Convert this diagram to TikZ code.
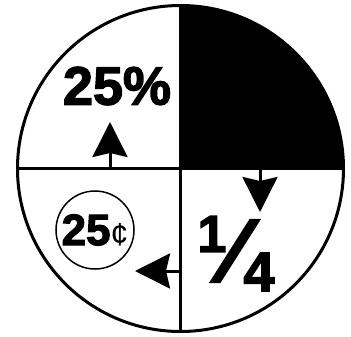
\documentclass[tikz,border=0pt]{standalone}
\usepackage{fontspec}
\setmainfont{Liberation Sans}[BoldFeatures={FakeBold=2.5}]
\usetikzlibrary{arrows.meta,calc}
\begin{document}
\begin{tikzpicture}[x=1pt, y=-1pt,
  rim/.style={line width=3pt},
  pointer/.style={line width=3pt, -{Stealth[length=35pt, width=35pt, inset=4pt]}},
  big/.style={inner sep=0pt, font=\fontsize{54}{54}\selectfont\bfseries},
  coin/.style={draw, circle, line width=1.5pt, minimum size=78pt, inner sep=0pt,
               font=\fontsize{44}{44}\selectfont\bfseries},
  frac/.style={inner sep=0pt, font=\fontsize{#1}{#1}\selectfont\bfseries}
]
  \useasboundingbox (0,0) rectangle (351,337);
  \coordinate (c) at (180.5,168.5);

  % shaded quarter and outline
  \fill (c) -- ++(163,0) arc[start angle=0, end angle=-90, radius=163] -- cycle;
  \draw[rim] (c) circle[radius=163];
  \draw[rim] ($(c)+(-163,0)$) -- ($(c)+(163,0)$);
  \draw[rim] ($(c)+(0,-163)$) -- ($(c)+(0,163)$);

  % labels
  \node[big] (pct) at (117,86) {25\%};
  \node[coin] (cent) at (95,230) {25{\fontsize{32}{32}\mdseries\selectfont ¢}};
  \node[frac=52] (num) at (212,234) {1};
  \node[frac=90] (bar) at (235,251) {⁄};
  \node[frac=56] (den) at (259,272) {4};

  % arrows from the dividers
  \coordinate (up0) at (110,168.5);
  \coordinate (up1) at (110,122);
  \coordinate (dn0) at (260,168.5);
  \coordinate (dn1) at (260,212);
  \coordinate (lf0) at (180.5,271);
  \coordinate (lf1) at (135,271);
  \draw[pointer] (up0) -- (up1);
  \draw[pointer] (dn0) -- (dn1);
  \draw[pointer] (lf0) -- (lf1);
\end{tikzpicture}
\end{document}
